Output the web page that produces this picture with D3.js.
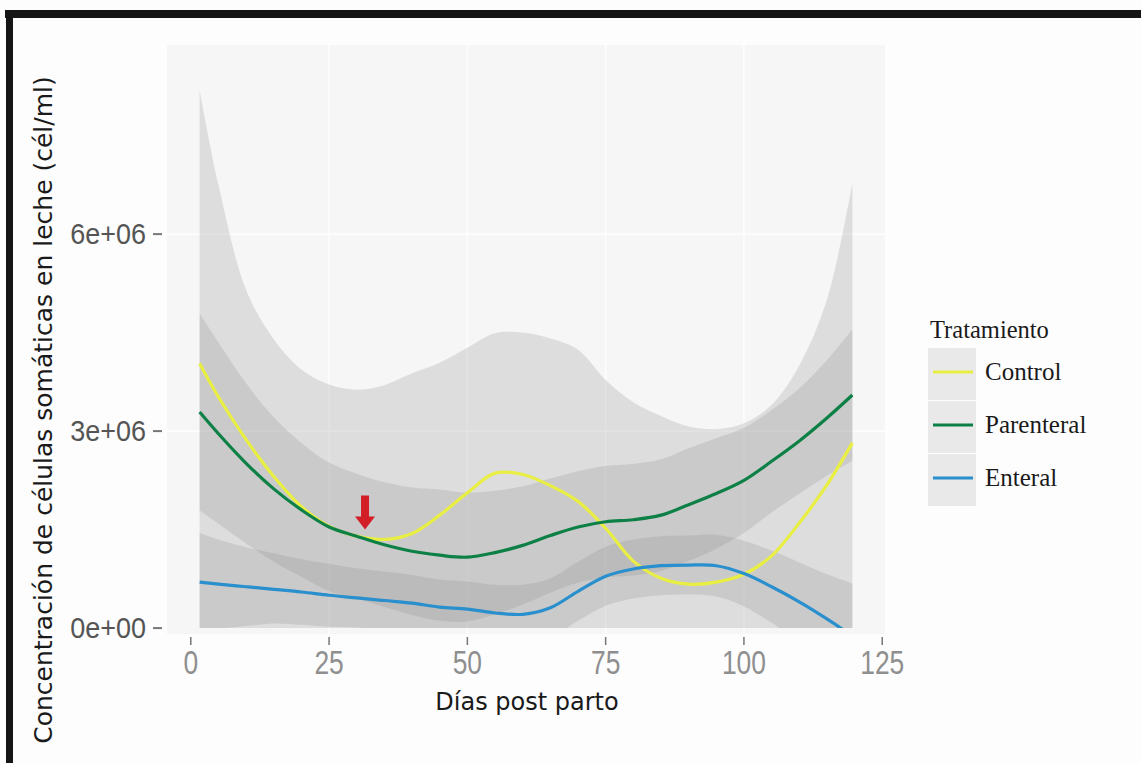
<!DOCTYPE html>
<html>
<head>
<meta charset="utf-8">
<script src="https://cdn.jsdelivr.net/npm/d3@7/dist/d3.min.js"></script>
<style>
body { margin: 0; background: #fdfdfd; }
</style>
</head>
<body>
<div id="chart"></div>
<script>
var days = [1.6, 5, 10, 15, 20, 25, 30, 35, 40, 45, 50, 55, 60, 65, 70, 75, 80, 85, 90, 95, 100, 105, 110, 115, 119.6];

// values in millions of cells/ml
var controlMean  = [4.03, 3.52, 2.87, 2.31, 1.85, 1.55, 1.40, 1.35, 1.44, 1.72, 2.06, 2.36, 2.34, 2.17, 1.93, 1.52, 1.02, 0.76, 0.67, 0.70, 0.82, 1.10, 1.60, 2.18, 2.82];
var controlUpper = [8.19, 6.75, 5.15, 4.40, 3.94, 3.71, 3.63, 3.70, 3.88, 4.04, 4.27, 4.49, 4.50, 4.41, 4.24, 3.78, 3.44, 3.23, 3.07, 3.03, 3.12, 3.40, 4.00, 5.00, 6.78];
var controlLower = [-0.3, -0.3, -0.35, -0.4, -0.5, -0.61, -0.83, -1.00, -1.00, -0.80, -0.55, -0.4, -0.4, -0.45, -0.55, -0.74, -1.40, -1.70, -1.73, -1.63, -1.48, -1.20, -0.80, -0.64, -1.14];

var parenteralMean  = [3.29, 2.96, 2.51, 2.12, 1.80, 1.54, 1.40, 1.27, 1.17, 1.11, 1.08, 1.15, 1.26, 1.41, 1.54, 1.62, 1.65, 1.72, 1.88, 2.05, 2.25, 2.54, 2.85, 3.20, 3.55];
var parenteralUpper = [4.79, 4.35, 3.73, 3.21, 2.82, 2.52, 2.35, 2.22, 2.14, 2.11, 2.06, 2.09, 2.16, 2.28, 2.39, 2.47, 2.50, 2.57, 2.74, 2.89, 3.05, 3.32, 3.65, 4.08, 4.55];
var parenteralLower = [1.79, 1.59, 1.29, 1.01, 0.78, 0.56, 0.45, 0.32, 0.20, 0.11, 0.10, 0.21, 0.36, 0.54, 0.69, 0.77, 0.80, 0.87, 1.02, 1.21, 1.45, 1.76, 2.05, 2.32, 2.55];

var enteralMean  = [0.70, 0.67, 0.63, 0.59, 0.55, 0.50, 0.46, 0.42, 0.38, 0.32, 0.29, 0.23, 0.21, 0.31, 0.56, 0.79, 0.90, 0.95, 0.96, 0.95, 0.83, 0.63, 0.40, 0.14, -0.12];
var enteralUpper = [1.45, 1.35, 1.23, 1.14, 1.05, 0.98, 0.91, 0.86, 0.81, 0.74, 0.71, 0.66, 0.66, 0.76, 1.01, 1.24, 1.35, 1.40, 1.41, 1.42, 1.33, 1.18, 1.00, 0.82, 0.68];
var enteralLower = [-0.05, -0.01, 0.03, 0.07, 0.05, 0.02, 0.01, -0.02, -0.05, -0.10, -0.13, -0.19, -0.24, -0.14, 0.11, 0.34, 0.45, 0.50, 0.51, 0.48, 0.33, 0.08, -0.20, -0.46, -0.92];

var treatments = ["Control", "Parenteral", "Enteral"];
var colors = ["#e8ef42", "#0d8046", "#2a8fcd"];

var xTicks = [0, 25, 50, 75, 100, 125];
var yTicks = [0, 3, 6];
var yTickLabels = ["0e+00", "3e+06", "6e+06"];

// red arrow marking day ~31
var arrowDay = 31.5, arrowFrom = 2.02, arrowTo = 1.5;

var width = 1141, height = 763;
var panel = { left: 167, right: 885, top: 45, bottom: 634 };
var tickFont = "'Liberation Sans', Arial, sans-serif";

var svg = d3.select("#chart").append("svg").attr("width", width).attr("height", height);
svg.append("rect").attr("width", width).attr("height", height).attr("fill", "#fdfdfd");

// scan frame
svg.append("rect").attr("x", 5).attr("y", 10).attr("width", width - 5).attr("height", 8).attr("fill", "#151515");
svg.append("rect").attr("x", 6).attr("y", 10).attr("width", 7).attr("height", height - 10).attr("fill", "#151515");

var x = d3.scaleLinear().domain([-4.3, 125.5]).range([panel.left, panel.right]);
var y = d3.scaleLinear().domain([-0.09, 8.88]).range([panel.bottom, panel.top]);

svg.append("rect").attr("x", panel.left).attr("y", panel.top)
  .attr("width", panel.right - panel.left).attr("height", panel.bottom - panel.top)
  .attr("fill", "#f6f6f6");

var grid = svg.append("g");
grid.selectAll(".gx").data(xTicks.filter(function(d) { return d > 0 && d < 125; })).enter().append("line")
  .attr("x1", function(d) { return x(d); }).attr("x2", function(d) { return x(d); })
  .attr("y1", panel.top).attr("y2", panel.bottom)
  .attr("stroke", "#fdfdfd").attr("stroke-width", 1.6);
grid.selectAll(".gy").data(yTicks.filter(function(d) { return d > 0; })).enter().append("line")
  .attr("y1", function(d) { return y(d); }).attr("y2", function(d) { return y(d); })
  .attr("x1", panel.left).attr("x2", panel.right)
  .attr("stroke", "#fdfdfd").attr("stroke-width", 1.6);

svg.append("clipPath").attr("id", "clip").append("rect")
  .attr("x", panel.left).attr("y", panel.top)
  .attr("width", panel.right - panel.left).attr("height", y(0) - panel.top);

var plot = svg.append("g").attr("clip-path", "url(#clip)");

var series = [
  { mean: controlMean, upper: controlUpper, lower: controlLower },
  { mean: parenteralMean, upper: parenteralUpper, lower: parenteralLower },
  { mean: enteralMean, upper: enteralUpper, lower: enteralLower }
];

var curve = d3.curveCatmullRom.alpha(0.5);

var area = function(s) {
  return d3.area().curve(curve)
    .x(function(d, i) { return x(days[i]); })
    .y0(function(d, i) { return y(s.lower[i]); })
    .y1(function(d, i) { return y(s.upper[i]); })(days);
};

var line = function(s) {
  return d3.line().curve(curve)
    .x(function(d, i) { return x(days[i]); })
    .y(function(d, i) { return y(s.mean[i]); })(days);
};

plot.selectAll(".band").data(series).enter().append("path")
  .attr("d", area).attr("fill", "#8f8f8f").attr("fill-opacity", 0.24);

plot.selectAll(".smooth").data(series).enter().append("path")
  .attr("d", line).attr("fill", "none")
  .attr("stroke", function(d, i) { return colors[i]; })
  .attr("stroke-width", 3.2);

// arrow
var ax = x(arrowDay), ay0 = y(arrowFrom), ay1 = y(arrowTo);
svg.append("path")
  .attr("d", "M" + (ax - 4) + "," + ay0 + "L" + (ax + 4) + "," + ay0 + "L" + (ax + 4) + "," + (ay1 - 13) +
    "L" + (ax + 10) + "," + (ay1 - 13) + "L" + ax + "," + ay1 + "L" + (ax - 10) + "," + (ay1 - 13) +
    "L" + (ax - 4) + "," + (ay1 - 13) + "Z")
  .attr("fill", "#d21f27");

// axes
var axisG = svg.append("g");
axisG.selectAll(".tx").data(xTicks).enter().append("line")
  .attr("x1", function(d) { return x(d); }).attr("x2", function(d) { return x(d); })
  .attr("y1", panel.bottom + 3).attr("y2", panel.bottom + 11)
  .attr("stroke", "#777").attr("stroke-width", 1.5);
axisG.selectAll(".lx").data(xTicks).enter().append("text")
  .attr("transform", function(d) { return "translate(" + x(d) + ",674) scale(0.8,1)"; })
  .attr("text-anchor", "middle")
  .attr("font-family", tickFont).attr("font-weight", 300)
  .attr("font-size", 33).attr("fill", "#8f8f8f")
  .text(function(d) { return d; });

axisG.selectAll(".ty").data(yTicks).enter().append("line")
  .attr("y1", function(d) { return y(d); }).attr("y2", function(d) { return y(d); })
  .attr("x1", 153).attr("x2", 162)
  .attr("stroke", "#777").attr("stroke-width", 2);
axisG.selectAll(".ly").data(yTicks).enter().append("text")
  .attr("transform", function(d) { return "translate(146," + (y(d) + 10) + ") scale(0.9,1)"; })
  .attr("text-anchor", "end")
  .attr("font-family", tickFont)
  .attr("font-size", 30).attr("fill", "#555")
  .text(function(d, i) { return yTickLabels[i]; });

svg.append("text").attr("x", 527).attr("y", 710).attr("text-anchor", "middle")
  .attr("font-family", "'DejaVu Sans', sans-serif").attr("font-size", 24).attr("fill", "#1a1a1a")
  .text("Días post parto");

svg.append("text").attr("transform", "translate(52,410) rotate(-90)").attr("text-anchor", "middle")
  .attr("font-family", "'DejaVu Sans', sans-serif").attr("font-size", 25).attr("fill", "#1a1a1a")
  .text("Concentración de células somáticas en leche (cél/ml)");

// legend
var legend = svg.append("g").attr("transform", "translate(928,0)");
legend.append("text").attr("x", 2).attr("y", 338)
  .attr("font-family", "'Liberation Serif', 'Times New Roman', serif").attr("font-size", 24.5).attr("fill", "#1a1a1a")
  .text("Tratamiento");
var keys = legend.selectAll(".key").data(treatments).enter().append("g")
  .attr("transform", function(d, i) { return "translate(0," + (348 + i * 53) + ")"; });
keys.append("rect").attr("width", 48).attr("height", 52).attr("fill", "#e9e9e9");
keys.append("line").attr("x1", 5).attr("x2", 45).attr("y1", 24).attr("y2", 24)
  .attr("stroke", function(d, i) { return colors[i]; }).attr("stroke-width", 3);
keys.append("text").attr("x", 57).attr("y", 32)
  .attr("font-family", "'Liberation Serif', 'Times New Roman', serif").attr("font-size", 25).attr("fill", "#1a1a1a")
  .text(function(d) { return d; });
</script>
</body>
</html>
